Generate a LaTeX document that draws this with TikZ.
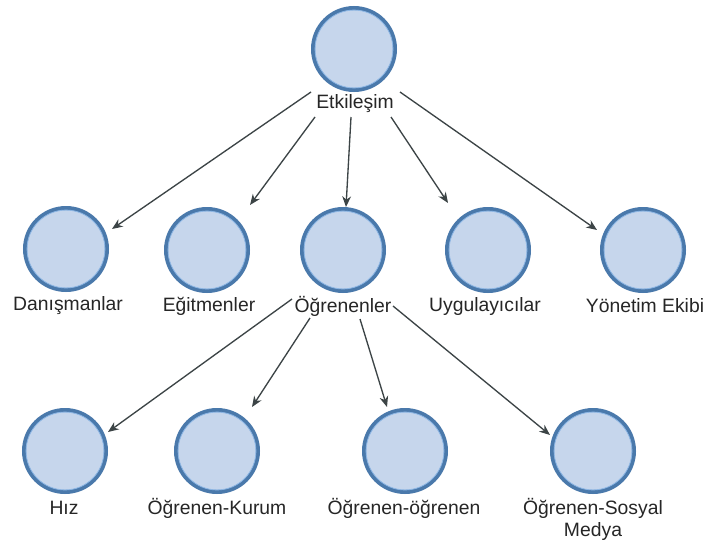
\documentclass[tikz,border=0pt]{standalone}
\usepackage{fontspec}
\setmainfont{Liberation Sans}
\usetikzlibrary{arrows.meta,calc}
\definecolor{ringblue}{RGB}{74,121,171}
\definecolor{ringlight}{RGB}{140,182,228}
\definecolor{fillblue}{RGB}{198,214,236}
\definecolor{arrowgray}{RGB}{60,68,70}
\begin{document}
\begin{tikzpicture}[x=0.75pt,y=-0.75pt,
  bubble/.style={circle,draw=ringblue,fill=fillblue,line width=3pt,minimum size=61.5pt,inner sep=0pt},
  lbl/.style={inner sep=0pt,align=center,font=\fontsize{14.5}{16.5}\selectfont,text=black!85},
  conn/.style={draw=arrowgray,line width=1pt,-{Stealth[length=8pt,width=6.5pt,inset=2.5pt]}}]
\useasboundingbox[fill=white] (0,0) rectangle (706,543);
% circles
\node[bubble] (etk) at (354,49) {};
\node[bubble] (dan) at (66,249) {};
\node[bubble] (egt) at (207,250) {};
\node[bubble] (ogr) at (343,250) {};
\node[bubble] (uyg) at (488,250) {};
\node[bubble] (yon) at (643,250) {};
\node[bubble] (hiz) at (65,451) {};
\node[bubble] (kur) at (217,451) {};
\node[bubble] (oo) at (405,451) {};
\node[bubble] (sos) at (593,451) {};
% inner light rings
\foreach \n in {etk,dan,egt,ogr,uyg,yon,hiz,kur,oo,sos}
  \draw[ringlight,line width=0.6pt] (\n.center) circle (29.2pt);
% labels
\node[lbl] (etkL) at (355,104) {Etkileşim};
\node[lbl] (danL) at (68,306) {Danışmanlar};
\node[lbl] (egtL) at (209,306) {Eğitmenler};
\node[lbl] (ogrL) at (343,306) {Öğrenenler};
\node[lbl] (uygL) at (485,306) {Uygulayıcılar};
\node[lbl] (yonL) at (645,306) {Yönetim Ekibi};
\node[lbl] (hizL) at (64,508) {Hız};
\node[lbl] (kurL) at (217,508) {Öğrenen-Kurum};
\node[lbl] (ooL) at (404,508) {Öğrenen-öğrenen};
\node[lbl] (sosL) at (593,519) {Öğrenen-Sosyal\\Medya};
% connectors
\draw[conn] ($(etkL)+(-44,-12)$) -- ($(dan)+(46,-20)$);
\draw[conn] ($(etkL)+(-40,13)$) -- ($(egt)+(43,-45)$);
\draw[conn] ($(etkL)+(-4,13)$) -- ($(ogr)+(3,-43)$);
\draw[conn] ($(etkL)+(36,13)$) -- ($(uyg)+(-40,-47)$);
\draw[conn] ($(etkL)+(45,-12)$) -- ($(yon)+(-46,-20)$);
\draw[conn] ($(ogrL)+(-51,-7)$) -- ($(hiz)+(43,-19)$);
\draw[conn] ($(ogrL)+(-33,12)$) -- ($(kur)+(35,-44)$);
\draw[conn] ($(ogrL)+(17,13)$) -- ($(oo)+(-18,-44)$);
\draw[conn] ($(ogrL)+(50,0)$) -- ($(sos)+(-43,-16)$);
\end{tikzpicture}
\end{document}
